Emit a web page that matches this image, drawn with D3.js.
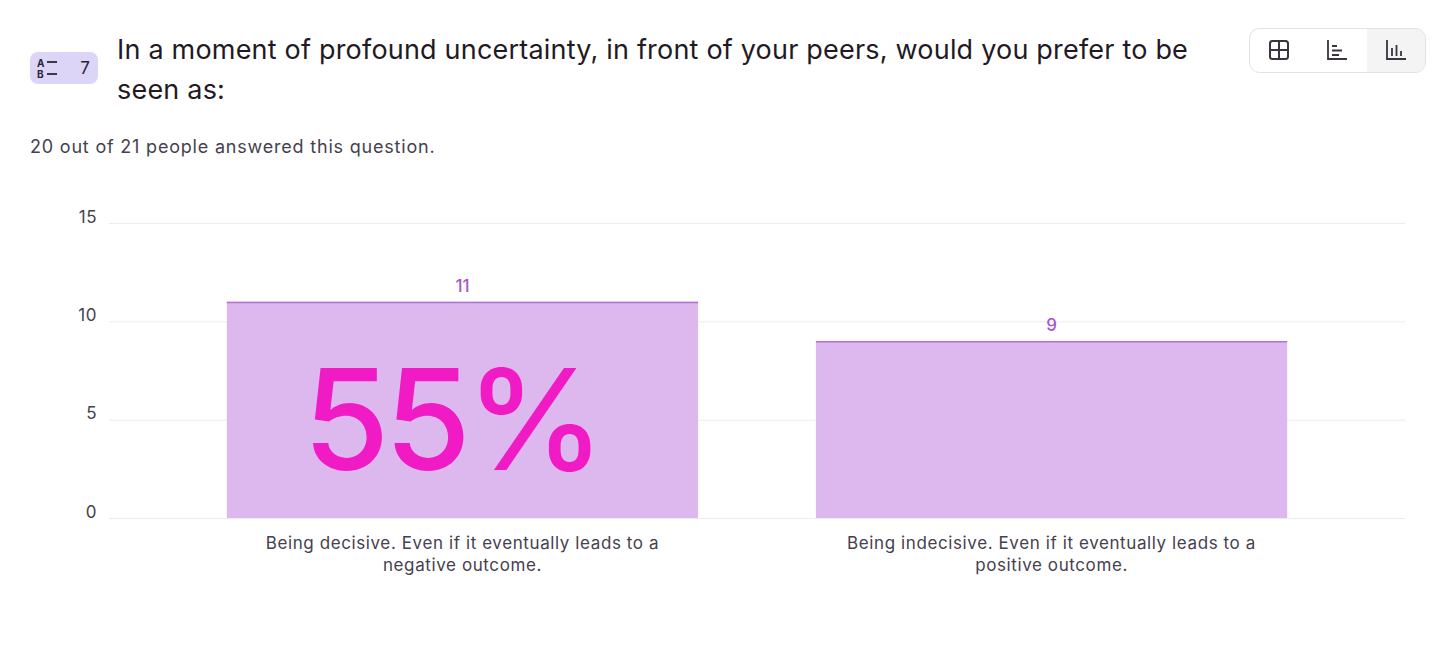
<!DOCTYPE html>
<html>
<head>
<meta charset="utf-8">
<script src="https://cdn.jsdelivr.net/npm/d3@7/dist/d3.min.js"></script>
<style>
  body { margin: 0; background: #fff; font-family: Inter, "Noto Sans", sans-serif; }
  #chart { position: relative; width: 1456px; height: 657px; }
</style>
</head>
<body>
<div id="chart"></div>
<script>
var id = '#chart'

var categories = [
  ['Being decisive. Even if it eventually leads to a', 'negative outcome.'],
  ['Being indecisive. Even if it eventually leads to a', 'positive outcome.']
]
var counts = [11, 9]
var yTicks = [0, 5, 10, 15]
var titleLines = ['In a moment of profound uncertainty, in front of your peers, would you prefer to be', 'seen as:']
var subtitle = '20 out of 21 people answered this question.'
var questionNo = '7'
var answered = 20

var cfg = {
  w: 1456,
  h: 657,
  margin: {top: 223, right: 51, bottom: 139, left: 109},
  barFill: '#ddb8ee',
  barEdge: '#b36fd6',
  labelColor: '#a855cc',
  bigColor: '#f01bc4',
  textColor: '#46414d',
  gridColor: '#ececee'
}

var svg = d3.select(id).append('svg')
  .attr('width', cfg.w)
  .attr('height', cfg.h)

// header
var badge = svg.append('g').attr('transform', 'translate(30,52)')
badge.append('rect')
  .attr('width', 68).attr('height', 32).attr('rx', 8)
  .style('fill', '#dcd5f8')
badge.append('text').attr('x', 7).attr('y', 15).text('A')
  .style('font-size', '10px').style('font-weight', 700).style('fill', '#2b2533')
badge.append('text').attr('x', 7).attr('y', 26).text('B')
  .style('font-size', '10px').style('font-weight', 700).style('fill', '#2b2533')
badge.append('line').attr('x1', 17).attr('x2', 27).attr('y1', 10).attr('y2', 10)
  .style('stroke', '#2b2533').style('stroke-width', 1.8)
badge.append('line').attr('x1', 17).attr('x2', 27).attr('y1', 22).attr('y2', 22)
  .style('stroke', '#2b2533').style('stroke-width', 1.8)
badge.append('text').attr('x', 55).attr('y', 22).attr('text-anchor', 'middle')
  .text(questionNo)
  .style('font-size', '17px').style('fill', '#2b2533')

svg.append('g').selectAll('text')
  .data(titleLines)
  .enter().append('text')
  .attr('x', 117)
  .attr('y', (d, i) => 59 + i * 40)
  .text(d => d)
  .style('font-size', '27px')
  .style('letter-spacing', '0.2px')
  .style('fill', '#1f1a24')

svg.append('text')
  .attr('x', 30).attr('y', 153)
  .text(subtitle)
  .style('font-size', '18px')
  .style('letter-spacing', '0.8px')
  .style('fill', cfg.textColor)

// view toggle
var tog = svg.append('g').attr('transform', 'translate(1249,28)')
tog.append('path')
  .attr('d', 'M118,0.5 H166 a10,10 0 0 1 10,10 V34 a10,10 0 0 1 -10,10 H118 Z')
  .style('fill', '#f4f4f5')
tog.append('rect')
  .attr('x', 0.5).attr('y', 0.5).attr('width', 176).attr('height', 44).attr('rx', 10)
  .style('fill', 'none').style('stroke', '#e2e2e4')
var ic = '#3a3340'
var g1 = tog.append('g').attr('transform', 'translate(20,12)')
g1.append('rect').attr('x', 1).attr('y', 1).attr('width', 18).attr('height', 18).attr('rx', 2.5)
  .style('fill', 'none').style('stroke', ic).style('stroke-width', 2)
g1.append('path').attr('d', 'M10,1 V19 M1,10 H19').style('stroke', ic).style('stroke-width', 2)
var g2 = tog.append('g').attr('transform', 'translate(78,12)')
g2.append('path').attr('d', 'M1,0 V19 H20 M5,6 H10 M5,10.5 H15 M5,15 H12')
  .style('fill', 'none').style('stroke', ic).style('stroke-width', 1.8)
var g3 = tog.append('g').attr('transform', 'translate(137,12)')
g3.append('path').attr('d', 'M1,0 V19 H20 M6,16 V8 M10.5,16 V5 M15,16 V11')
  .style('fill', 'none').style('stroke', ic).style('stroke-width', 1.8)

// chart
var innerW = cfg.w - cfg.margin.left - cfg.margin.right
var innerH = cfg.h - cfg.margin.top - cfg.margin.bottom

var g = svg.append('g')
  .attr('transform', 'translate(' + cfg.margin.left + ',' + cfg.margin.top + ')')

var x = d3.scaleBand()
  .domain(d3.range(categories.length))
  .range([0, innerW])
  .padding(0.2)

var y = d3.scaleLinear()
  .domain([0, d3.max(yTicks)])
  .range([innerH, 0])

var yAxis = g.append('g')
  .call(d3.axisLeft(y).tickValues(yTicks).tickSize(-innerW).tickPadding(12))
yAxis.select('.domain').remove()
yAxis.selectAll('line').style('stroke', cfg.gridColor)
yAxis.selectAll('text')
  .attr('dy', '-0.05em')
  .style('font-size', '17px')
  .style('letter-spacing', '0.5px')
  .style('font-family', 'Inter, "Noto Sans", sans-serif')
  .style('fill', cfg.textColor)

var bars = g.selectAll('.bar')
  .data(counts)
  .enter().append('g')
  .attr('class', 'bar')

bars.append('rect')
  .attr('x', (d, i) => x(i))
  .attr('y', d => y(d))
  .attr('width', x.bandwidth())
  .attr('height', d => innerH - y(d))
  .style('fill', cfg.barFill)

bars.append('line')
  .attr('x1', (d, i) => x(i))
  .attr('x2', (d, i) => x(i) + x.bandwidth())
  .attr('y1', d => y(d) + 0.75)
  .attr('y2', d => y(d) + 0.75)
  .style('stroke', cfg.barEdge)
  .style('stroke-width', 1.5)

bars.append('text')
  .attr('x', (d, i) => x(i) + x.bandwidth() / 2)
  .attr('y', d => y(d) - 10)
  .attr('text-anchor', 'middle')
  .text(d => d)
  .style('font-size', '17px')
  .style('font-weight', 500)
  .style('fill', cfg.labelColor)

// big share label on the leading bar
var lead = d3.maxIndex(counts)
g.append('text')
  .attr('x', x(lead) + x.bandwidth() / 2 - 11)
  .attr('y', innerH - 48)
  .attr('text-anchor', 'middle')
  .text(Math.round(counts[lead] / answered * 100) + '%')
  .style('font-size', '140px')
  .style('font-weight', 500)
  .style('letter-spacing', '-5px')
  .style('fill', cfg.bigColor)

g.append('g').selectAll('text')
  .data(categories)
  .enter().append('text')
  .attr('text-anchor', 'middle')
  .attr('x', (d, i) => x(i) + x.bandwidth() / 2)
  .attr('y', innerH + 31)
  .style('font-size', '17px')
  .style('letter-spacing', '0.6px')
  .style('fill', cfg.textColor)
  .selectAll('tspan')
  .data(d => d)
  .enter().append('tspan')
  .attr('x', function() { return d3.select(this.parentNode).attr('x') })
  .attr('dy', (d, i) => i ? 22 : 0)
  .text(d => d)
</script>
</body>
</html>
